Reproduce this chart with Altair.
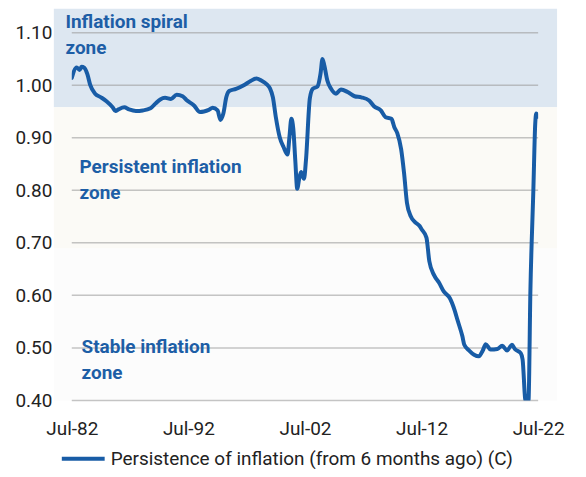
import altair as alt
import pandas as pd

# ---- data ----
dates = [
    "1982-07-01", "1982-12-01", "1983-03-01", "1983-05-01", "1983-08-01", "1983-11-01",
    "1984-02-01", "1984-07-01", "1985-01-01", "1985-07-01", "1986-01-01", "1986-04-01",
    "1986-07-01", "1987-01-01", "1987-06-01", "1988-01-01", "1988-08-01", "1989-04-01",
    "1989-09-01", "1990-02-01", "1990-07-01", "1991-01-01", "1991-07-01", "1992-01-01",
    "1992-05-01", "1993-01-01", "1993-07-01", "1993-11-01", "1994-04-01", "1994-08-01",
    "1995-01-01", "1995-04-01", "1995-07-01", "1995-10-01", "1996-01-01", "1996-08-01",
    "1997-04-01", "1997-11-01", "1998-05-01", "1998-10-01", "1999-04-01", "1999-07-01",
    "1999-10-01", "2000-01-01", "2000-05-01", "2000-09-01", "2001-01-01", "2001-03-01",
    "2001-05-01", "2001-07-01", "2001-09-01", "2001-11-01", "2002-01-01", "2002-03-01",
    "2002-06-01", "2002-08-01", "2002-12-01", "2003-03-01", "2003-08-01", "2003-11-01",
    "2004-01-01", "2004-03-01", "2004-06-01", "2004-10-01", "2005-03-01", "2005-08-01",
    "2006-03-01", "2006-10-01", "2007-05-01", "2008-01-01", "2008-06-01", "2009-01-01",
    "2009-06-01", "2009-12-01", "2010-03-01", "2010-06-01", "2010-10-01", "2011-01-01",
    "2011-04-01", "2011-08-01", "2011-12-01", "2012-05-01", "2012-07-01", "2012-12-01",
    "2013-03-01", "2013-08-01", "2014-01-01", "2014-06-01", "2014-12-01", "2015-05-01",
    "2015-08-01", "2016-01-01", "2016-03-01", "2016-08-01", "2017-01-01", "2017-06-01",
    "2017-10-01", "2018-01-01", "2018-06-01", "2019-01-01", "2019-06-01", "2019-11-01",
    "2020-04-01", "2020-07-01", "2021-01-01", "2021-03-01", "2021-06-01", "2021-09-01",
    "2021-11-01", "2022-02-01", "2022-04-01", "2022-05-01", "2022-07-01",
]
values = [
    1.014, 1.034, 1.029, 1.035, 1.033, 1.021,
    1.000, 0.984, 0.977, 0.969, 0.958, 0.951,
    0.954, 0.958, 0.954, 0.951, 0.952, 0.956,
    0.965, 0.973, 0.976, 0.974, 0.982, 0.979,
    0.972, 0.961, 0.949, 0.950, 0.953, 0.957,
    0.952, 0.934, 0.946, 0.977, 0.989, 0.993,
    1.000, 1.008, 1.013, 1.009, 1.001, 0.994,
    0.977, 0.939, 0.901, 0.882, 0.868, 0.901,
    0.936, 0.917, 0.857, 0.803, 0.822, 0.835,
    0.822, 0.857, 0.975, 0.993, 0.998, 1.022,
    1.050, 1.037, 1.009, 0.993, 0.984, 0.992,
    0.987, 0.979, 0.977, 0.971, 0.960, 0.952,
    0.939, 0.936, 0.920, 0.909, 0.878, 0.832,
    0.776, 0.750, 0.740, 0.732, 0.726, 0.710,
    0.665, 0.638, 0.624, 0.607, 0.595, 0.572,
    0.553, 0.522, 0.506, 0.495, 0.487, 0.484,
    0.495, 0.507, 0.497, 0.498, 0.504, 0.495,
    0.506, 0.498, 0.490, 0.478, 0.400, 0.400,
    0.610, 0.800, 0.927, 0.946, 0.940,
]
series_name = "Persistence of inflation (from 6 months ago) (C)"

zone_names = ["spiral", "persistent", "stable"]
zone_low = [0.958, 0.689, 0.40]
zone_high = [1.1455, 0.958, 0.689]

zone_labels = ["Inflation spiral\nzone", "Persistent inflation\nzone", "Stable inflation\nzone"]
label_dates = ["1981-12-15", "1983-03-01", "1983-05-01"]
label_values = [1.1095, 0.8325, 0.491]

y_ticks = [0.40, 0.50, 0.60, 0.70, 0.80, 0.90, 1.00, 1.10]
x_tick_years = [1982, 1992, 2002, 2012, 2022]

# ---- styles ----
LINE_COLOR = "#185CA6"
TEXT_BLUE = "#1D5EA6"
ZONE_COLORS = ["#DDE7F1", "#FBFAF6", "#FCFCFC"]
W, H = 468, 393

line_df = pd.DataFrame({"date": dates, "value": values, "series": series_name})
zone_df = pd.DataFrame({"zone": zone_names, "low": zone_low, "high": zone_high})
label_df = pd.DataFrame({"date": label_dates, "value": label_values, "text": zone_labels})
tick_df = pd.DataFrame({"value": y_ticks})

x_scale = alt.Scale(
    type="utc",
    domain=[alt.DateTime(year=1982, month=7, date=1, utc=True),
            alt.DateTime(year=2022, month=7, date=1, utc=True)],
)
y_scale = alt.Scale(domain=[0.40, 1.1455], nice=False, zero=False)

x_axis = alt.Axis(values=[alt.DateTime(year=y, month=7, date=1, utc=True) for y in x_tick_years],
                  format="%b-%y", labelFlush=False, ticks=False, domain=False, grid=False,
                  labelPadding=19, labelFontSize=19, labelFont="Roboto", labelColor="#222222")
y_axis = alt.Axis(values=y_ticks, format=".2f", ticks=False, domain=False, grid=False,
                  labelPadding=20, labelFontSize=19, labelFont="Roboto", labelColor="#222222")


def X(field):
    return alt.X(field, scale=x_scale, title=None, axis=x_axis)


def Y(field):
    return alt.Y(field, scale=y_scale, title=None, axis=y_axis)


zones = alt.Chart(zone_df).mark_rect().encode(
    x=alt.value(-18),
    x2=alt.value(W + 19),
    y=Y("low:Q"),
    y2="high:Q",
    fill=alt.Fill("zone:N", scale=alt.Scale(domain=zone_names, range=ZONE_COLORS), legend=None),
)

grid = alt.Chart(tick_df).mark_rule(color="#9E9E9E", opacity=0.6, strokeWidth=1.5).encode(
    x=alt.value(0),
    x2=alt.value(W),
    y=Y("value:Q"),
)

line = alt.Chart(line_df).mark_line(strokeWidth=4, strokeCap="round", strokeJoin="round",
                                      interpolate="monotone", clip=True).encode(
    x=X("date:T"),
    y=Y("value:Q"),
    stroke=alt.Stroke("series:N", scale=alt.Scale(domain=[series_name], range=[LINE_COLOR]),
                      legend=alt.Legend(title=None, orient="none", legendX=-12, legendY=428,
                                        symbolType="stroke", symbolSize=1849, symbolStrokeWidth=4,
                                        symbolOpacity=1, symbolStrokeColor=LINE_COLOR,
                                        labelFontSize=19, labelFont="Roboto", labelColor="#222222",
                                        labelLimit=0, labelOffset=4)),
)

labels = alt.Chart(label_df).mark_text(align="left", baseline="alphabetic", lineBreak="\n",
                                        lineHeight=26, font="Roboto", fontWeight="bold",
                                        fontSize=19, color=TEXT_BLUE).encode(
    x=X("date:T"),
    y=Y("value:Q"),
    text="text:N",
)

chart = alt.layer(zones, grid, line, labels).resolve_scale(
    fill="independent", stroke="independent"
).properties(
    width=W, height=H,
    autosize=alt.AutoSizeParams(type="none"),
    padding={"left": 64, "top": 0, "right": 40, "bottom": 68},
    background="white",
).configure_view(stroke=None)

chart.save("out.html", embed_options={"renderer": "svg", "actions": False})
